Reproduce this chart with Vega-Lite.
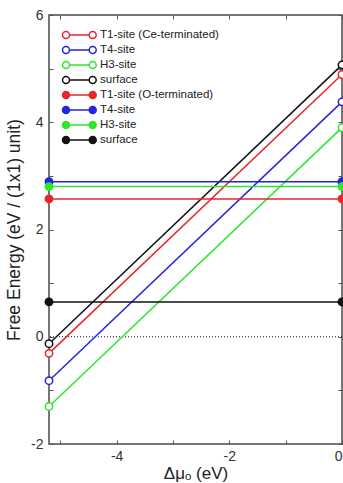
{
  "$schema": "https://vega.github.io/schema/vega-lite/v6.json",
  "width": 293,
  "height": 429,
  "autosize": {"type": "none"},
  "padding": {"left": 49, "top": 15, "right": 1, "bottom": 39},
  "background": "white",
  "config": {
    "view": {"stroke": "#4a4a4a", "strokeWidth": 1.5},
    "font": "Liberation Sans",
    "axis": {
      "domain": false,
      "grid": false,
      "offset": -4,
      "tickSize": 4,
      "tickColor": "#555555",
      "tickWidth": 1,
      "labelFont": "Liberation Sans",
      "labelFontSize": 14,
      "labelColor": "#333333",
      "titleFont": "Liberation Sans",
      "titleFontWeight": "normal",
      "titleColor": "#222222"
    }
  },
  "data": {
    "values": [
      {"key": "c1", "x": -5.2, "y": -0.31},
      {"key": "c1", "x": 0, "y": 4.89},
      {"key": "c2", "x": -5.2, "y": -0.82},
      {"key": "c2", "x": 0, "y": 4.38},
      {"key": "c3", "x": -5.2, "y": -1.3},
      {"key": "c3", "x": 0, "y": 3.9},
      {"key": "c4", "x": -5.2, "y": -0.13},
      {"key": "c4", "x": 0, "y": 5.07},
      {"key": "o1", "x": -5.2, "y": 2.57},
      {"key": "o1", "x": 0, "y": 2.57},
      {"key": "o2", "x": -5.2, "y": 2.89},
      {"key": "o2", "x": 0, "y": 2.89},
      {"key": "o3", "x": -5.2, "y": 2.8},
      {"key": "o3", "x": 0, "y": 2.8},
      {"key": "o4", "x": -5.2, "y": 0.65},
      {"key": "o4", "x": 0, "y": 0.65}
    ]
  },
  "layer": [
    {
      "data": {"values": [{"y": 0}]},
      "mark": {"type": "rule", "color": "#111111", "strokeWidth": 1, "strokeDash": [1, 2]},
      "encoding": {
        "y": {"field": "y", "type": "quantitative", "axis": null, "scale": {"domain": [-2, 6], "nice": false, "zero": false}}
      }
    },
    {
      "mark": {"type": "line", "strokeWidth": 1.5},
      "encoding": {
        "x": {
          "field": "x", "type": "quantitative",
          "scale": {"domain": [-5.2, 0], "nice": false, "zero": false},
          "axis": {
            "orient": "bottom",
            "values": [-5, -4, -3, -2, -1, 0],
            "labelExpr": "datum.value % 2 === 0 ? toString(datum.value) : ''",
            "labelPadding": 5,
            "title": "Δμₒ (eV)",
            "titleFontSize": 17,
            "titlePadding": 2
          }
        },
        "y": {
          "field": "y", "type": "quantitative",
          "scale": {"domain": [-2, 6], "nice": false, "zero": false},
          "axis": {
            "orient": "left",
            "values": [-2, -1, 0, 1, 2, 3, 4, 5, 6],
            "labelExpr": "datum.value % 2 === 0 ? toString(datum.value) : ''",
            "labelPadding": 6,
            "title": "Free Energy (eV / (1x1) unit)",
            "titleFontSize": 17.5,
            "titlePadding": 7
          }
        },
        "color": {
          "field": "key", "type": "nominal",
          "scale": {
            "domain": ["c1", "c2", "c3", "c4", "o1", "o2", "o3", "o4"],
            "range": ["#e8262c", "#2424e0", "#2ee62e", "#111111", "#e8262c", "#2424e0", "#2ee62e", "#111111"]
          },
          "legend": {
            "orient": "none",
            "legendX": 11,
            "legendY": 14,
            "title": null,
            "padding": 0,
            "symbolType": "M0.7,0A0.7,0.7 0 1,1 -0.7,0A0.7,0.7 0 1,1 0.7,0M0.7,0L4.64,0M6.04,0A0.7,0.7 0 1,1 4.64,0A0.7,0.7 0 1,1 6.04,0",
            "symbolSize": 100,
            "symbolStrokeWidth": 1.5,
            "symbolOpacity": 1,
            "labelOffset": 28,
            "labelFontSize": 11.5,
            "labelColor": "#222222",
            "labelFont": "Liberation Sans",
            "rowPadding": 1,
            "labelExpr": "['T1-site (Ce-terminated)','T4-site','H3-site','surface','T1-site (O-terminated)','T4-site','H3-site','surface'][indexof(['c1','c2','c3','c4','o1','o2','o3','o4'], datum.value)]",
            "encode": {
              "symbols": {
                "update": {
                  "fill": {"signal": "substring(datum.value, 0, 1) === 'c' ? 'white' : scale('color', datum.value)"},
                  "fillOpacity": {"value": 1}
                }
              }
            }
          }
        }
      }
    },
    {
      "mark": {"type": "point", "filled": false, "size": 55, "strokeWidth": 1.5, "opacity": 1},
      "encoding": {
        "x": {"field": "x", "type": "quantitative", "axis": null, "scale": {"domain": [-5.2, 0], "nice": false, "zero": false}},
        "y": {"field": "y", "type": "quantitative", "axis": null, "scale": {"domain": [-2, 6], "nice": false, "zero": false}},
        "color": {"field": "key", "type": "nominal", "legend": null},
        "fill": {
          "field": "key", "type": "nominal", "legend": null,
          "scale": {
            "domain": ["c1", "c2", "c3", "c4", "o1", "o2", "o3", "o4"],
            "range": ["white", "white", "white", "white", "#e8262c", "#2424e0", "#2ee62e", "#111111"]
          }
        }
      }
    },
    {
      "mark": {"type": "point", "opacity": 0},
      "encoding": {
        "x": {
          "field": "x", "type": "quantitative",
          "scale": {"domain": [-5.2, 0], "nice": false, "zero": false},
          "axis": {"orient": "top", "values": [-5, -4, -3, -2, -1, 0], "labels": false, "title": null}
        },
        "y": {
          "field": "y", "type": "quantitative",
          "scale": {"domain": [-2, 6], "nice": false, "zero": false},
          "axis": {"orient": "right", "values": [-2, -1, 0, 1, 2, 3, 4, 5, 6], "labels": false, "title": null}
        }
      }
    }
  ],
  "resolve": {"axis": {"x": "independent", "y": "independent"}}
}
